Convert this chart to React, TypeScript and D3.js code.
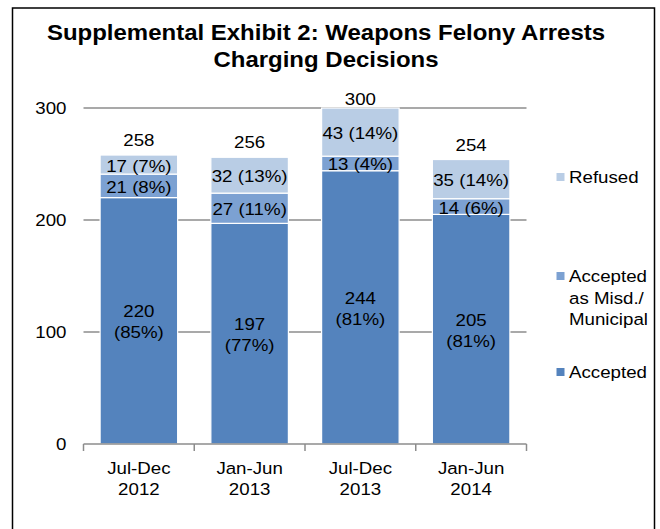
import React from "react";
import * as d3 from "d3";

const title = ["Supplemental Exhibit 2: Weapons Felony Arrests", "Charging Decisions"];
const categories = [["Jul-Dec", "2012"], ["Jan-Jun", "2013"], ["Jul-Dec", "2013"], ["Jan-Jun", "2014"]];
const accepted = [220, 197, 244, 205];
const acceptedPct = [85, 77, 81, 81];
const misd = [21, 27, 13, 14];
const misdPct = [8, 11, 4, 6];
const refused = [17, 32, 43, 35];
const refusedPct = [7, 13, 14, 14];
const totals = [258, 256, 300, 254];
const yTicks = [0, 100, 200, 300];
const legendItems = [
  { key: "refused", lines: ["Refused"] },
  { key: "misd", lines: ["Accepted", "as Misd./", "Municipal"] },
  { key: "accepted", lines: ["Accepted"] },
];

const colors: Record<string, string> = {
  accepted: "#5483BD",
  misd: "#7CA1D2",
  refused: "#B9CDE5",
};

const FONT = "'Liberation Sans', Arial, sans-serif";
const SX = 1.1;

function T({ x, y, anchor = "middle", size = 17, bold = false, children }: any) {
  return (
    <text transform={`translate(${x},${y}) scale(${SX},1)`} textAnchor={anchor} fontSize={size}
      fontWeight={bold ? "bold" : "normal"} fill="#000">{children}</text>
  );
}

export default function App() {
  const W = 660, H = 529;
  const left = 83.5, right = 526.5, top = 108, bottom = 444;
  const x = d3.scaleBand<number>().domain(d3.range(categories.length)).range([left, right]).paddingInner(0.3).paddingOuter(0.15);
  const y = d3.scaleLinear().domain([0, 300]).range([bottom, top]);

  const keys = ["accepted", "misd", "refused"];
  const table = categories.map((_, i) => ({ accepted: accepted[i], misd: misd[i], refused: refused[i] }));
  const stacked = d3.stack<any>().keys(keys)(table);
  const labels: Record<string, (i: number) => string[]> = {
    accepted: (i) => [`${accepted[i]}`, `(${acceptedPct[i]}%)`],
    misd: (i) => [`${misd[i]} (${misdPct[i]}%)`],
    refused: (i) => [`${refused[i]} (${refusedPct[i]}%)`],
  };
  const step = (right - left) / categories.length;
  const bounds = d3.range(categories.length + 1).map((k) => left + k * step);
  const legendY = [177, 276, 372];

  return (
    <svg width={W} height={H} style={{ position: "absolute", left: 0, top: 0 }} fontFamily={FONT}>
      <rect x={0} y={0} width={W} height={H} fill="#fff" />
      <rect x={12.5} y={8} width={642} height={540} fill="none" stroke="#000" strokeWidth={1.5} />
      {title.map((t, i) => (
        <T key={i} x={326} y={40 + i * 27} size={21.8} bold>{t}</T>
      ))}
      {yTicks.map((t) => (
        <g key={t}>
          {t > 0 && <line x1={left} x2={right} y1={y(t)} y2={y(t)} stroke="#8c8c8c" strokeWidth={1.5} />}
          <T x={66.5} y={y(t) + 6} anchor="end">{t}</T>
        </g>
      ))}
      {stacked.map((s) => (
        <g key={s.key}>
          {s.map((d, i) => (
            <rect key={i} x={x(i)!} width={x.bandwidth()} y={y(d[1])} height={y(d[0]) - y(d[1])}
              fill={colors[s.key]} stroke="#fff" strokeWidth={1.2} />
          ))}
        </g>
      ))}
      <line x1={left} x2={right} y1={bottom} y2={bottom} stroke="#8c8c8c" strokeWidth={1.5} />
      {bounds.map((b, k) => (
        <line key={k} x1={b} x2={b} y1={bottom} y2={bottom + 7} stroke="#8c8c8c" strokeWidth={1.5} />
      ))}
      {stacked.map((s) => (
        <g key={"l" + s.key}>
          {s.map((d, i) => {
            const lines = labels[s.key](i);
            const cy = (y(d[0]) + y(d[1])) / 2;
            const lh = 21;
            return lines.map((ln, j) => (
              <T key={i + "-" + j} x={x(i)! + x.bandwidth() / 2} y={cy + 7 + (j - (lines.length - 1) / 2) * lh}>{ln}</T>
            ));
          })}
        </g>
      ))}
      {totals.map((t, i) => (
        <T key={"t" + i} x={x(i)! + x.bandwidth() / 2} y={Math.max(y(t) - 9, 105)}>{t}</T>
      ))}
      {categories.map((c, i) => (
        <g key={"c" + i}>
          {c.map((ln, j) => (
            <T key={j} x={x(i)! + x.bandwidth() / 2} y={474 + j * 21}>{ln}</T>
          ))}
        </g>
      ))}
      {legendItems.map((it, k) => (
        <g key={it.key}>
          <rect x={556} y={legendY[k] - 4.5} width={9} height={9} fill={colors[it.key]} stroke="#fff" strokeWidth={1} />
          {it.lines.map((ln, j) => (
            <T key={j} x={569} y={legendY[k] + 6 + j * 21.5} anchor="start">{ln}</T>
          ))}
        </g>
      ))}
    </svg>
  );
}
